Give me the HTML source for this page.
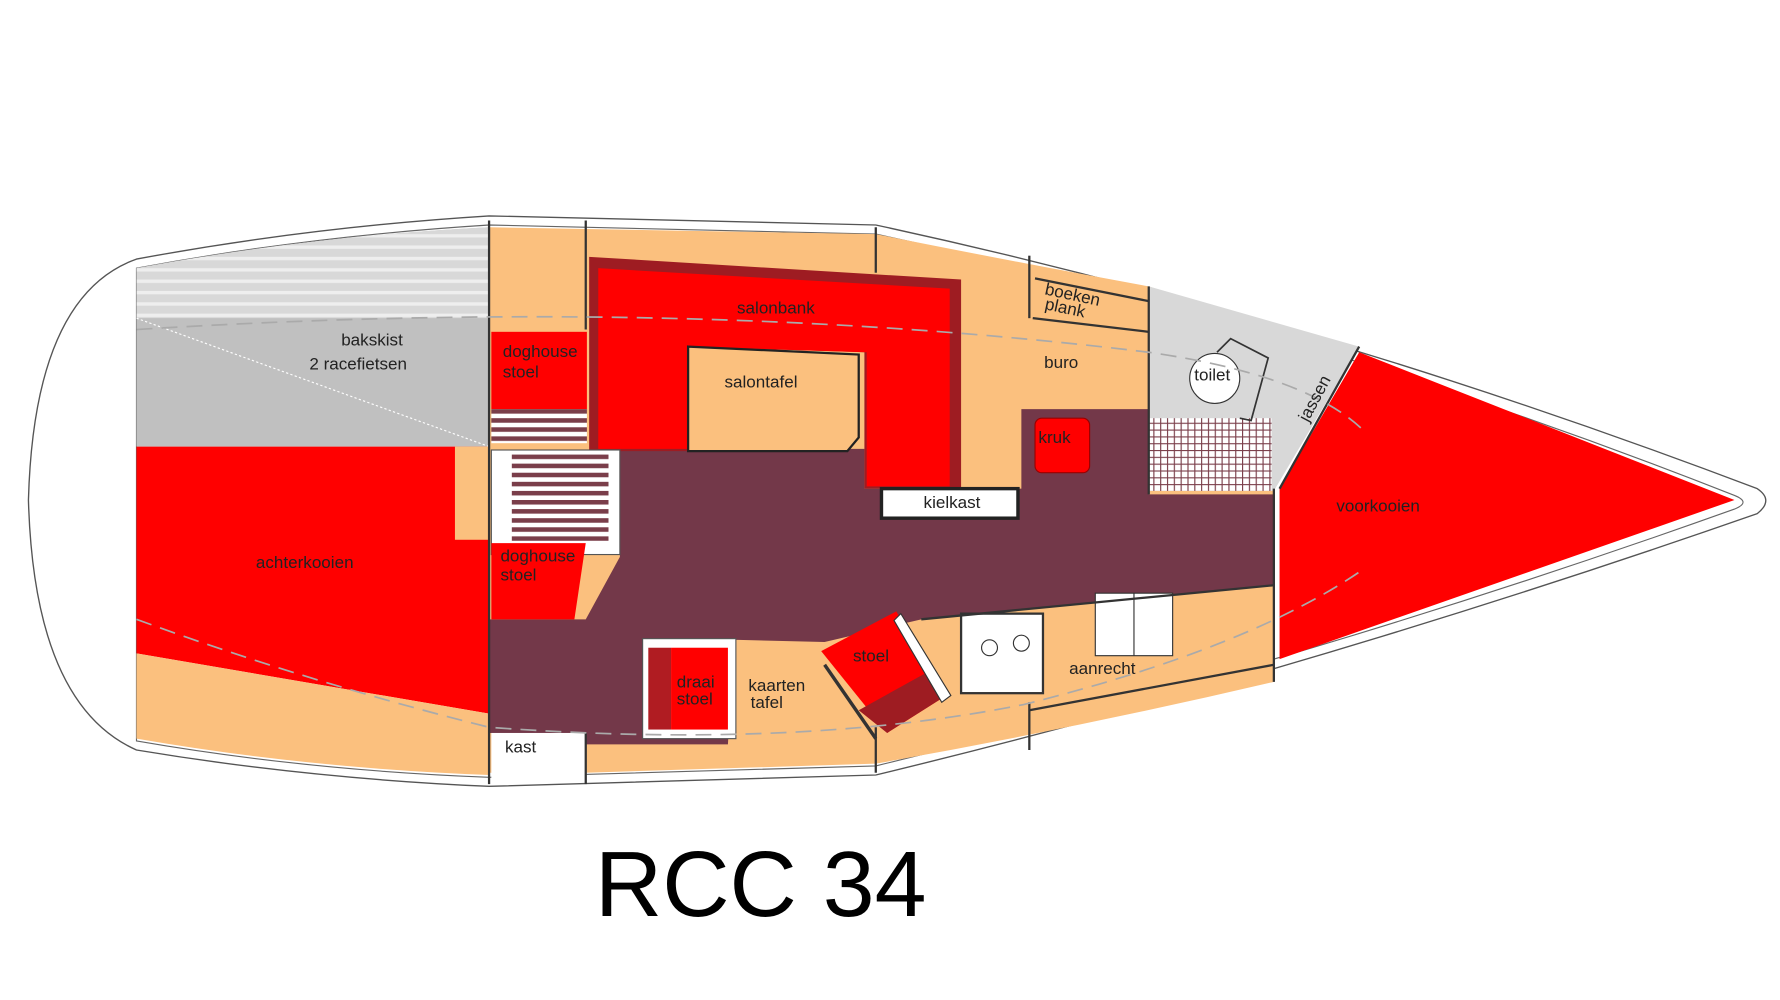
<!DOCTYPE html>
<html><head><meta charset="utf-8"><style>
html,body{margin:0;padding:0;background:#fff;width:1780px;height:1000px;overflow:hidden}
svg{display:block}
text{font-family:"Liberation Sans",sans-serif;fill:#222}
</style></head><body>
<svg width="1780" height="1000" viewBox="0 0 1565 880" preserveAspectRatio="none" xmlns="http://www.w3.org/2000/svg">
<defs>
<pattern id="st" width="8" height="8" patternUnits="userSpaceOnUse"><rect width="8" height="8" fill="#fff"/><rect width="8" height="4" fill="#7a3e4a"/></pattern>
<pattern id="grid" width="6" height="6" patternUnits="userSpaceOnUse"><rect width="6" height="6" fill="#fff"/><path d="M0 0H6M0 0V6" stroke="#7a3e4a" stroke-width="2"/></pattern>
<pattern id="gs" width="10" height="10" patternUnits="userSpaceOnUse"><rect width="10" height="10" fill="#d8d8d8"/><rect y="6" width="10" height="3" fill="#eee"/></pattern>
</defs>
<!-- hull -->
<path d="M120 228 Q270 200 430 190 L770 198 Q1150 280 1545 430 Q1560 440 1545 452 Q1150 590 770 682 L430 692 Q270 685 120 660 Q30 620 25 440 Q30 260 120 228 Z" fill="#fff" stroke="#555" stroke-width="1.2"/>
<path d="M120 236 Q270 208 430 198 L770 206 Q1150 288 1525 436 Q1540 442 1525 448 Q1150 582 770 674 L430 684 Q270 678 120 652 Z" fill="none" stroke="#666" stroke-width="1"/>
<!-- bakskist -->
<path d="M120 236 Q270 208 430 200 L430 393 L120 393 Z" fill="#c0c0c0"/>
<path d="M120 236 Q270 208 430 200 L430 280 L120 280 Z" fill="url(#gs)"/>
<line x1="120" y1="280" x2="430" y2="393" stroke="#fff" stroke-width="1" stroke-dasharray="2,2"/>
<!-- achterkooien -->
<path d="M120 393 L430 393 L430 628 L120 575 Z" fill="#ff0000"/>
<path d="M120 575 L430 628 L430 682 Q270 676 120 650 Z" fill="#fbc07e"/>
<!-- interior tan -->
<path d="M430 200 L770 206 Q900 232 1010 252 L1120 290 L1120 600 Q950 640 770 672 L515 680 L430 680 Z" fill="#fbc07e"/>
<!-- toilet area -->
<path d="M1010 252 L1195 305 L1120 432 L1010 432 Z" fill="#d8d8d8"/>
<rect x="1010" y="368" width="108" height="64" fill="url(#grid)"/>
<circle cx="1068" cy="333" r="22" fill="#fff" stroke="#333"/>
<path d="M1070 310 L1082 298 L1115 315 L1100 370 L1090 368" fill="none" stroke="#333" stroke-width="1.5"/>
<!-- floor -->
<path d="M545 395 L760 395 L760 430 L898 430 L898 360 L1010 360 L1010 435 L1120 435 L1120 515 L810 545 L725 565 L645 563 L640 655 L515 655 L515 645 L430 645 L430 545 L515 545 L545 490 Z" fill="#733849"/>
<!-- voorkooien -->
<path d="M1195 310 L1525 440 L1125 580 L1125 430 Z" fill="#ff0000"/>
<!-- salonbank -->
<path d="M518 226 L845 246 L845 430 L760 430 L760 310 L605 305 L605 397 L518 397 Z" fill="#9e1c22"/>
<path d="M526 236 L835 254 L835 428 L762 428 L762 310 L605 305 L605 395 L526 395 Z" fill="#ff0000"/>
<path d="M605 305 L755 312 L755 385 L745 397 L605 397 Z" fill="#fbc07e" stroke="#222" stroke-width="2"/>
<!-- doghouse -->
<rect x="432" y="292" width="84" height="68" fill="#ff0000"/>
<rect x="432" y="360" width="84" height="30" fill="url(#st)"/>
<rect x="432" y="396" width="113" height="92" fill="#fff" stroke="#555"/>
<rect x="450" y="400" width="85" height="76" fill="url(#st)"/>
<rect x="400" y="393" width="30" height="82" fill="#fbc07e"/>
<path d="M432 478 L515 478 L505 545 L432 545 Z" fill="#ff0000"/>
<!-- kruk -->
<rect x="910" y="368" width="48" height="48" rx="6" fill="#ff0000" stroke="#900"/>
<!-- kielkast -->
<rect x="775" y="430" width="120" height="26" fill="#fff" stroke="#222" stroke-width="3"/>
<!-- draai stoel -->
<rect x="565" y="562" width="82" height="88" fill="#fff" stroke="#555"/>
<rect x="570" y="570" width="20" height="72" fill="#b01c22"/>
<rect x="590" y="570" width="50" height="72" fill="#ff0000"/>
<!-- stoel -->
<path d="M722 573 L788 538 L832 612 L780 645 Z" fill="#ff0000"/>
<path d="M755 625 L818 590 L832 612 L780 645 Z" fill="#9e1c22"/>
<path d="M792 540 L836 612 L828 618 L786 546 Z" fill="#fff" stroke="#333"/>
<path d="M725 585 L770 650" stroke="#333" stroke-width="3"/>
<!-- aanrecht -->
<rect x="845" y="540" width="72" height="70" fill="#fff" stroke="#333" stroke-width="2"/>
<circle cx="870" cy="570" r="7" fill="none" stroke="#333"/><circle cx="898" cy="566" r="7" fill="none" stroke="#333"/>
<rect x="963" y="522" width="68" height="55" fill="#fff" stroke="#333"/>
<line x1="997" y1="522" x2="997" y2="577" stroke="#333"/>
<!-- kast -->
<rect x="432" y="645" width="83" height="42" fill="#fff"/>
<!-- partitions -->
<g stroke="#333" stroke-width="2">
<line x1="430" y1="194" x2="430" y2="690"/><line x1="515" y1="194" x2="515" y2="290"/><line x1="515" y1="645" x2="515" y2="690"/>
<line x1="770" y1="200" x2="770" y2="240"/><line x1="770" y1="640" x2="770" y2="680"/>
<line x1="905" y1="225" x2="905" y2="280"/><line x1="905" y1="618" x2="905" y2="660"/>
<line x1="1010" y1="252" x2="1010" y2="435"/><line x1="1120" y1="430" x2="1120" y2="600"/>
<line x1="1125" y1="430" x2="1195" y2="305"/>
<line x1="910" y1="245" x2="1010" y2="265"/><line x1="908" y1="280" x2="1010" y2="292"/>
<line x1="810" y1="545" x2="1120" y2="515"/><line x1="905" y1="625" x2="1120" y2="585"/>
</g>
<!-- dashed guides -->
<g stroke="#aaa" stroke-width="1.5" fill="none" stroke-dasharray="14,8">
<path d="M120 290 Q600 260 1010 310 Q1150 330 1200 380"/>
<path d="M120 545 Q270 600 430 640 Q700 660 900 620 Q1100 570 1200 500"/>
</g>
<!-- labels -->
<g font-size="15">
<text x="300" y="304">bakskist</text>
<text x="272" y="325">2 racefietsen</text>
<text x="225" y="500">achterkooien</text>
<text x="442" y="314">doghouse</text><text x="442" y="332">stoel</text>
<text x="440" y="494">doghouse</text><text x="440" y="511">stoel</text>
<text x="648" y="276">salonbank</text>
<text x="637" y="341">salontafel</text>
<text x="918" y="259" transform="rotate(12 918 259)">boeken</text>
<text x="918" y="272" transform="rotate(12 918 272)">plank</text>
<text x="918" y="324">buro</text>
<text x="913" y="390">kruk</text>
<text x="812" y="447">kielkast</text>
<text x="1050" y="335">toilet</text>
<text x="1150" y="372" transform="rotate(-62 1150 372)">jassen</text>
<text x="1175" y="450">voorkooien</text>
<text x="750" y="582">stoel</text>
<text x="940" y="593">aanrecht</text>
<text x="595" y="605">draai</text><text x="595" y="620">stoel</text>
<text x="658" y="608">kaarten</text><text x="660" y="623">tafel</text>
<text x="444" y="662">kast</text>
</g>
<text x="523" y="806" font-size="82" style="fill:#000">RCC 34</text>
</svg>
</body></html>
